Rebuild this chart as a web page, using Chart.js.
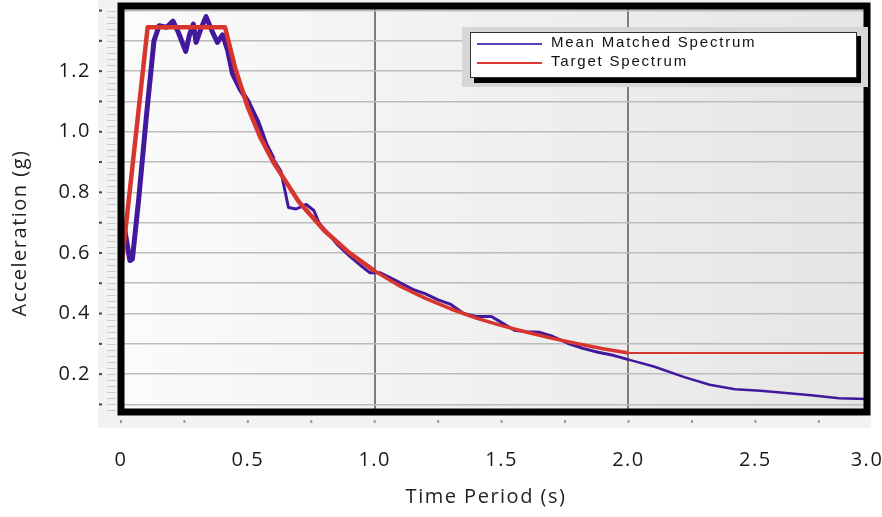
<!DOCTYPE html>
<html>
<head>
<meta charset="utf-8">
<script src="https://cdn.jsdelivr.net/npm/chart.js@4.4.1/dist/chart.umd.min.js"></script>
<style>
  html, body { margin: 0; padding: 0; background: #fff; }
  #wrap { position: relative; width: 882px; height: 517px; }
</style>
</head>
<body>
<div id="wrap"><canvas id="chart"></canvas></div>
<script>
// Mean matched spectrum, period (s) / acceleration (g)
const matchedPeriods = [0.01, 0.035, 0.045, 0.07, 0.10, 0.13, 0.15, 0.18, 0.205, 0.225, 0.255, 0.27, 0.285, 0.296, 0.315, 0.335, 0.36, 0.38, 0.40, 0.42, 0.44, 0.47, 0.50, 0.54, 0.57, 0.60, 0.63, 0.66, 0.69, 0.73, 0.76, 0.78, 0.80, 0.85, 0.90, 0.95, 0.98, 1.02, 1.08, 1.15, 1.20, 1.25, 1.30, 1.35, 1.40, 1.46, 1.50, 1.55, 1.60, 1.65, 1.70, 1.76, 1.82, 1.88, 1.94, 2.00, 2.10, 2.22, 2.32, 2.42, 2.52, 2.62, 2.72, 2.83, 2.94];
const matchedAccel = [0.70, 0.575, 0.58, 0.78, 1.05, 1.30, 1.35, 1.345, 1.365, 1.33, 1.265, 1.32, 1.355, 1.295, 1.34, 1.38, 1.33, 1.295, 1.32, 1.27, 1.19, 1.14, 1.10, 1.03, 0.96, 0.91, 0.87, 0.75, 0.745, 0.76, 0.74, 0.70, 0.68, 0.63, 0.59, 0.555, 0.535, 0.535, 0.51, 0.48, 0.465, 0.445, 0.43, 0.40, 0.39, 0.39, 0.37, 0.345, 0.34, 0.338, 0.325, 0.302, 0.285, 0.272, 0.262, 0.248, 0.225, 0.19, 0.165, 0.15, 0.145, 0.138, 0.13, 0.12, 0.118];

// Target (design) spectrum
const targetPeriods = [0, 0.105, 0.41, 0.45, 0.50, 0.55, 0.60, 0.70, 0.80, 0.90, 1.00, 1.10, 1.20, 1.30, 1.40, 1.50, 1.60, 1.70, 1.80, 1.90, 2.00, 2.94];
const targetAccel = [0.54, 1.345, 1.345, 1.21, 1.08, 0.98, 0.90, 0.77, 0.675, 0.60, 0.54, 0.49, 0.45, 0.415, 0.385, 0.36, 0.338, 0.318, 0.30, 0.284, 0.27, 0.27];

// Axis ticks
const xTickValues = [0, 0.5, 1, 1.5, 2, 2.5, 3];
const xTickLabels = ['0', '0.5', '1.0', '1.5', '2.0', '2.5', '3.0'];
const yTickValues = [0.1, 0.2, 0.3, 0.4, 0.5, 0.6, 0.7, 0.8, 0.9, 1.0, 1.1, 1.2, 1.3, 1.4];
const yTickLabels = ['', '0.2', '', '0.4', '', '0.6', '', '0.8', '', '1.0', '', '1.2', '', ''];

const xTitle = 'Time Period (s)';
const yTitle = 'Acceleration (g)';

const toPoints = (xs, ys) => xs.map((x, i) => ({ x, y: ys[i] }));

// background, thick frame, small tick marks, boxed legend and axis titles
const framePlugin = {
  id: 'frame',
  beforeDraw(chart) {
    const { ctx, chartArea: a } = chart;
    ctx.letterSpacing = '1.5px';
    ctx.save();
    ctx.fillStyle = '#f2f2f2';
    ctx.fillRect(98, 0, a.right + 4 - 98, a.bottom + 16);
    const g = ctx.createLinearGradient(a.left, 0, a.right, 0);
    g.addColorStop(0, '#fbfbfb');
    g.addColorStop(1, '#e5e5e5');
    ctx.fillStyle = g;
    ctx.fillRect(a.left, a.top, a.right - a.left, a.bottom - a.top);
    ctx.restore();
  },
  afterDatasetsDraw(chart) {
    const { ctx, chartArea: a, scales } = chart;
    ctx.save();
    // black frame
    ctx.strokeStyle = '#000';
    ctx.lineWidth = 7;
    ctx.strokeRect(a.left, a.top, a.right - a.left, a.bottom - a.top);

    // faint minor ticks on the left
    ctx.strokeStyle = 'rgba(0,0,0,0.16)';
    ctx.lineWidth = 1;
    for (let v = 0.08; v < 1.42; v += 0.02) {
      const y = Math.round(scales.y.getPixelForValue(v)) + 0.5;
      ctx.beginPath();
      ctx.moveTo(a.left - 14, y);
      ctx.lineTo(a.left - 5, y);
      ctx.stroke();
    }
    // dark marks beside labels
    ctx.fillStyle = '#444';
    yTickValues.forEach(v => {
      const y = scales.y.getPixelForValue(v);
      ctx.fillRect(a.left - 22, y - 1, 3, 2);
    });
    // x tick dots
    ctx.fillStyle = '#9a9a9a';
    for (let v = 0; v <= scales.x.max; v += 0.25) {
      const x = scales.x.getPixelForValue(v);
      ctx.fillRect(x - 1, a.bottom + 8, 2, 3);
    }
    ctx.restore();
  },
  afterDraw(chart) {
    const { ctx, chartArea: a } = chart;
    ctx.save();

    // legend
    const bx = a.right - 397, by = a.top + 26, bw = 387, bh = 46;
    ctx.fillStyle = '#d6d6d6';
    ctx.fillRect(bx - 8, by - 5, bw + 19, bh + 14);
    ctx.fillStyle = '#000';
    ctx.fillRect(bx + 4, by + 4, bw, bh + 1);
    ctx.fillStyle = '#fff';
    ctx.fillRect(bx, by, bw, bh);
    ctx.strokeStyle = '#333';
    ctx.lineWidth = 1;
    ctx.strokeRect(bx + 0.5, by + 0.5, bw - 1, bh - 1);

    ctx.font = '15px "Liberation Sans", Arial, sans-serif';
    ctx.letterSpacing = '1.8px';
    ctx.textBaseline = 'middle';
    ctx.textAlign = 'left';
    chart.data.datasets.forEach((ds, i) => {
      const y = by + 12 + i * 19;
      ctx.strokeStyle = ds.legendColor;
      ctx.lineWidth = 2;
      ctx.beginPath();
      ctx.moveTo(bx + 7, y);
      ctx.lineTo(bx + 72, y);
      ctx.stroke();
      ctx.fillStyle = '#111';
      ctx.fillText(ds.label, bx + 81, y - 1);
    });

    // axis titles
    ctx.letterSpacing = '1.5px';
    ctx.fillStyle = '#222';
    ctx.font = '20px "Open Sans", sans-serif';
    ctx.textAlign = 'center';
    ctx.fillText(xTitle, 486, 497);
    ctx.translate(20, 233);
    ctx.rotate(-Math.PI / 2);
    ctx.fillText(yTitle, 0, 0);
    ctx.restore();
  }
};

new Chart(document.getElementById('chart'), {
  type: 'line',
  data: {
    datasets: [
      {
        label: 'Mean Matched Spectrum',
        data: toPoints(matchedPeriods, matchedAccel),
        borderColor: '#42189c',
        legendColor: '#5a3cc0',
        borderWidth: 3,
        pointRadius: 0,
        tension: 0,
        borderJoinStyle: 'round',
        order: 1,
        segment: {
          borderWidth: c => c.p0.parsed.x < 0.6 ? 5 : (c.p0.parsed.x < 2 ? 3 : 2.5)
        }
      },
      {
        label: 'Target Spectrum',
        data: toPoints(targetPeriods, targetAccel),
        borderColor: '#d8352e',
        legendColor: '#e03535',
        borderWidth: 3,
        pointRadius: 0,
        tension: 0,
        borderJoinStyle: 'round',
        order: 0,
        segment: {
          borderWidth: c => c.p0.parsed.x < 1 ? 4.5 : (c.p0.parsed.x < 2 ? 3.5 : 2)
        }
      }
    ]
  },
  options: {
    responsive: true,
    maintainAspectRatio: false,
    animation: false,
    layout: { padding: { left: 0, right: 15, top: 6, bottom: 8 } },
    plugins: {
      legend: { display: false },
      tooltip: { enabled: false }
    },
    scales: {
      x: {
        type: 'linear',
        min: 0,
        max: 2.94,
        afterBuildTicks: s => { s.ticks = xTickValues.map(v => ({ value: Math.min(v, s.max) })); },
        afterFit: s => { s.height = 97; s.paddingLeft = 0; s.paddingRight = 0; },
        border: { display: false },
        grid: {
          drawTicks: false,
          color: c => (c.tick && (c.tick.value === 1 || c.tick.value === 2)) ? '#7d7d7d' : 'rgba(0,0,0,0)',
          lineWidth: 2
        },
        ticks: {
          padding: 36,
          maxRotation: 0,
          autoSkip: false,
          color: '#1a1a1a',
          font: { family: '"Open Sans", sans-serif', size: 20 },
          callback: (v, i) => xTickLabels[i]
        }
      },
      y: {
        min: 0.075,
        max: 1.415,
        afterBuildTicks: s => { s.ticks = yTickValues.map(v => ({ value: v })); },
        afterFit: s => { s.width = 121; s.paddingTop = 0; s.paddingBottom = 0; },
        border: { display: false },
        grid: {
          drawTicks: false,
          color: '#bcbcbc',
          lineWidth: 1.5
        },
        ticks: {
          padding: 30,
          autoSkip: false,
          color: '#1a1a1a',
          font: { family: '"Open Sans", sans-serif', size: 20 },
          callback: (v, i) => yTickLabels[i]
        }
      }
    }
  },
  plugins: [framePlugin]
});
</script>
</body>
</html>
